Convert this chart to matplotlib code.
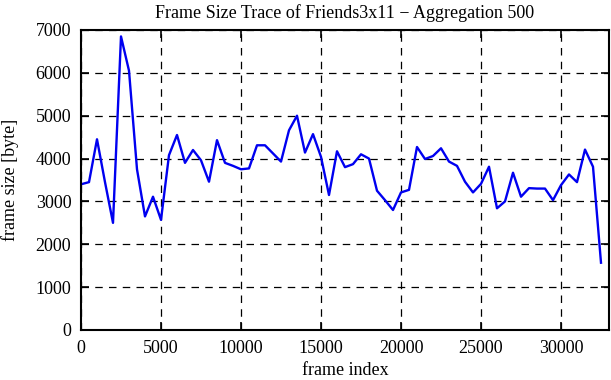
import matplotlib
matplotlib.use("Agg")
import matplotlib.pyplot as plt

frame_index = [i * 500 for i in range(66)]
frame_size = [3400, 3450, 4450, 3450, 2500, 6850, 6050, 3750, 2650, 3110,
              2570, 4080, 4550, 3900, 4200, 3960, 3460, 4430, 3900, 3830,
              3750, 3770, 4310, 4310, 4120, 3930, 4660, 5000, 4140, 4570,
              4040, 3150, 4170, 3800, 3870, 4100, 4000, 3250, 3030, 2800,
              3210, 3270, 4270, 3990, 4060, 4240, 3930, 3830, 3460, 3210,
              3410, 3810, 2840, 3000, 3670, 3110, 3310, 3300, 3300, 3030,
              3380, 3630, 3450, 4210, 3810, 1570]
x_ticks = [0, 5000, 10000, 15000, 20000, 25000, 30000]
y_ticks = [0, 1000, 2000, 3000, 4000, 5000, 6000, 7000]

plt.rcParams['font.family'] = ['Liberation Serif', 'DejaVu Serif']
plt.rcParams['font.size'] = 13

fig = plt.figure(figsize=(6.11, 3.80), dpi=100)
ax = fig.add_axes([81/611, 50/380, 528/611, 300/380])
ax.plot(frame_index, frame_size, color='#0000f0', linewidth=1.7)
ax.set_xlim(0, 33000)
ax.set_ylim(0, 7000)
ax.set_xticks(x_ticks)
ax.set_yticks(y_ticks)
ax.grid(True, color='black', linestyle=(0, (6, 5)), linewidth=0.9)
ax.tick_params(direction='in', top=True, right=True, length=6, width=1.2, pad=7)
for s in ax.spines.values():
    s.set_linewidth(1.5)
ax.set_xlabel('frame index', labelpad=4)
ax.set_ylabel('frame size [byte]', labelpad=12)
ax.set_title('Frame Size Trace of Friends3x11 \u2212 Aggregation 500', fontsize=13, pad=9)
fig.savefig('out.png', dpi=100)
